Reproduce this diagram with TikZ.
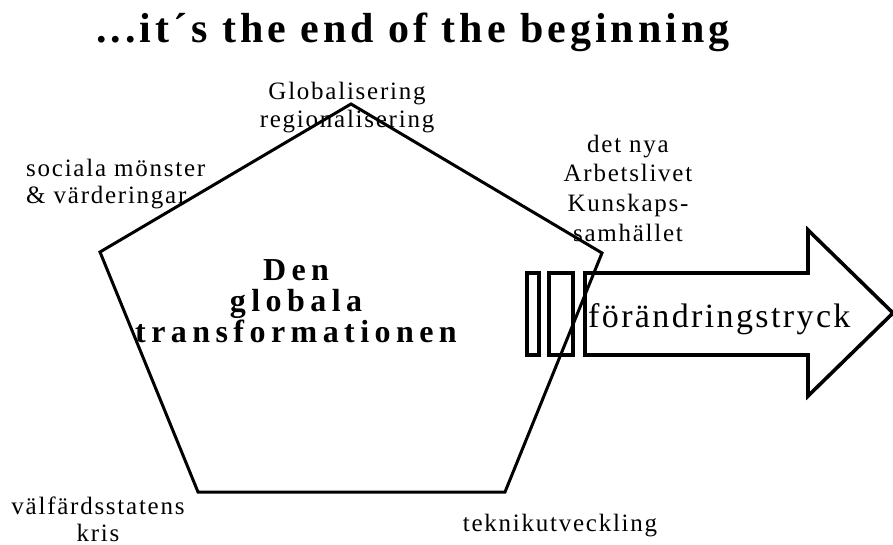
\documentclass[tikz,border=0pt]{standalone}
\usepackage{fontspec}
\setmainfont{Liberation Serif}
\newfontfamily\titlefont[LetterSpace=9.5]{Liberation Serif}
\newfontfamily\labelfont[LetterSpace=7]{Liberation Serif}
\newfontfamily\centerfont[LetterSpace=17]{Liberation Serif}
\newfontfamily\arrowfont[LetterSpace=7]{Liberation Serif}
\begin{document}
\begin{tikzpicture}[x=1pt,y=-1pt,
  outline/.style={draw=black,line width=3pt,line join=miter},
  thick outline/.style={draw=black,line width=3.6pt,line join=miter},
  lbl/.style={font=\labelfont\fontsize{25}{28}\selectfont,inner sep=0pt,align=center,anchor=base},
  lbll/.style={font=\labelfont\fontsize{25}{27}\selectfont,inner sep=0pt,align=left,anchor=base west}]
\useasboundingbox (0,0) rectangle (893,545);

% title
\node[font=\titlefont\bfseries\fontsize{42}{48}\selectfont,inner sep=0pt,anchor=base west] (title) at (96,43) {...it´s the end of the beginning};

% pentagon
\coordinate (pt) at (351,104);
\coordinate (pr) at (602,253);
\coordinate (pbr) at (505,492);
\coordinate (pbl) at (198,492);
\coordinate (pl) at (100,252);
\draw[outline] (pt) -- (pr) -- (pbr) -- (pbl) -- (pl) -- cycle;

% central text (anchor = baseline of the last line)
\node[font=\centerfont\bfseries\fontsize{32}{31}\selectfont,inner sep=0pt,align=center,anchor=base] (core) at (296,342) {Den\\globala\\transformationen};

% vertex labels (anchor = baseline of the last line)
\node[lbl] (glob) at (347,128) {Globalisering\\regionalisering};
\node[lbll] (soc) at (26,204) {sociala mönster\\\& värderingar};
\node[lbl,font=\labelfont\fontsize{25}{29.5}\selectfont] (arb) at (628,241) {det nya\\Arbetslivet\\Kunskaps-\\samhället};
\node[lbl,font=\labelfont\fontsize{25}{27}\selectfont] (valf) at (98,541) {välfärdsstatens\\kris};
\node[lbl] (tekn) at (560,531) {teknikutveckling};

% pressure bars and arrow
\draw[thick outline] (527,273) rectangle (539,355);
\draw[thick outline] (549,273) rectangle (573,355);
\draw[thick outline] (585,273) -- (808,273) -- (808,230) -- (893,313) -- (808,396) -- (808,355) -- (585,355) -- cycle;
\node[font=\arrowfont\fontsize{34}{36}\selectfont,inner sep=0pt,anchor=base west] (press) at (588,327) {förändringstryck};
\end{tikzpicture}
\end{document}
